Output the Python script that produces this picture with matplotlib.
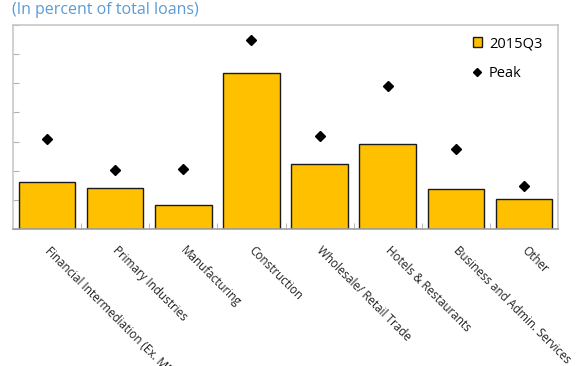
import matplotlib.pyplot as plt
import matplotlib.transforms as mtransforms
import numpy as np

plt.rcParams["font.family"] = ["Open Sans", "DejaVu Sans"]

sectors = [
    "Financial Intermediation (Ex. MFIs)",
    "Primary Industries",
    "Manufacturing",
    "Construction",
    "Wholesale/ Retail Trade",
    "Hotels & Restaurants",
    "Business and Admin. Services",
    "Other",
]
q3_2015 = [8.0, 7.0, 4.1, 26.7, 11.2, 14.6, 6.9, 5.1]
peak = [15.4, 10.2, 10.3, 32.5, 16.0, 24.5, 13.8, 7.4]

fig = plt.figure(figsize=(5.8, 3.66), dpi=100)
ax = fig.add_axes([0.0224, 0.3743, 0.9397, 0.5574])

x = np.arange(len(sectors))
bars = ax.bar(x, q3_2015, width=0.83, color="#FFC000", edgecolor="#1a1a1a",
              linewidth=1.0, label="2015Q3", zorder=2)
pk, = ax.plot(x, peak, linestyle="none", marker="D", markersize=5,
              color="black", label="Peak", zorder=3)

ax.set_xlim(-0.5, len(sectors) - 0.5)
ax.set_ylim(0, 35)
ax.set_yticks(np.arange(0, 36, 5))
ax.set_yticklabels([])
ax.tick_params(axis="y", direction="in", length=4, color="#b0b0b0")

ax.set_xticks(x)
ax.set_xticklabels(sectors, rotation=-45, ha="left", va="top",
                   rotation_mode="anchor", fontsize=8.4, color="#222222")
ax.tick_params(axis="x", which="major", length=0, pad=11)
# nudge the slanted labels a little to the right
shift = mtransforms.ScaledTranslation(4 / 100, 0, fig.dpi_scale_trans)
for lbl in ax.get_xticklabels():
    lbl.set_transform(lbl.get_transform() + shift)
ax.set_xticks(np.arange(0.5, len(sectors) - 0.5), minor=True)
ax.tick_params(axis="x", which="minor", direction="in", length=4,
               color="#b0b0b0")

for s in ax.spines.values():
    s.set_color("#c8c8c8")
    s.set_linewidth(1.2)
ax.spines["bottom"].set_color("#a0a0a0")

ax.legend([bars, pk], ["2015Q3", "Peak"], loc="upper right", frameon=False,
          fontsize=10.5, handlelength=0.6, handleheight=0.6,
          handletextpad=0.5, labelspacing=1.0, markerscale=0.9,
          bbox_to_anchor=(0.995, 1.01))

fig.text(0.02, 0.995, "(In percent of total loans)", ha="left", va="top",
         fontsize=11.5, color="#5b9bd5")

fig.savefig("out.png", dpi=100)
